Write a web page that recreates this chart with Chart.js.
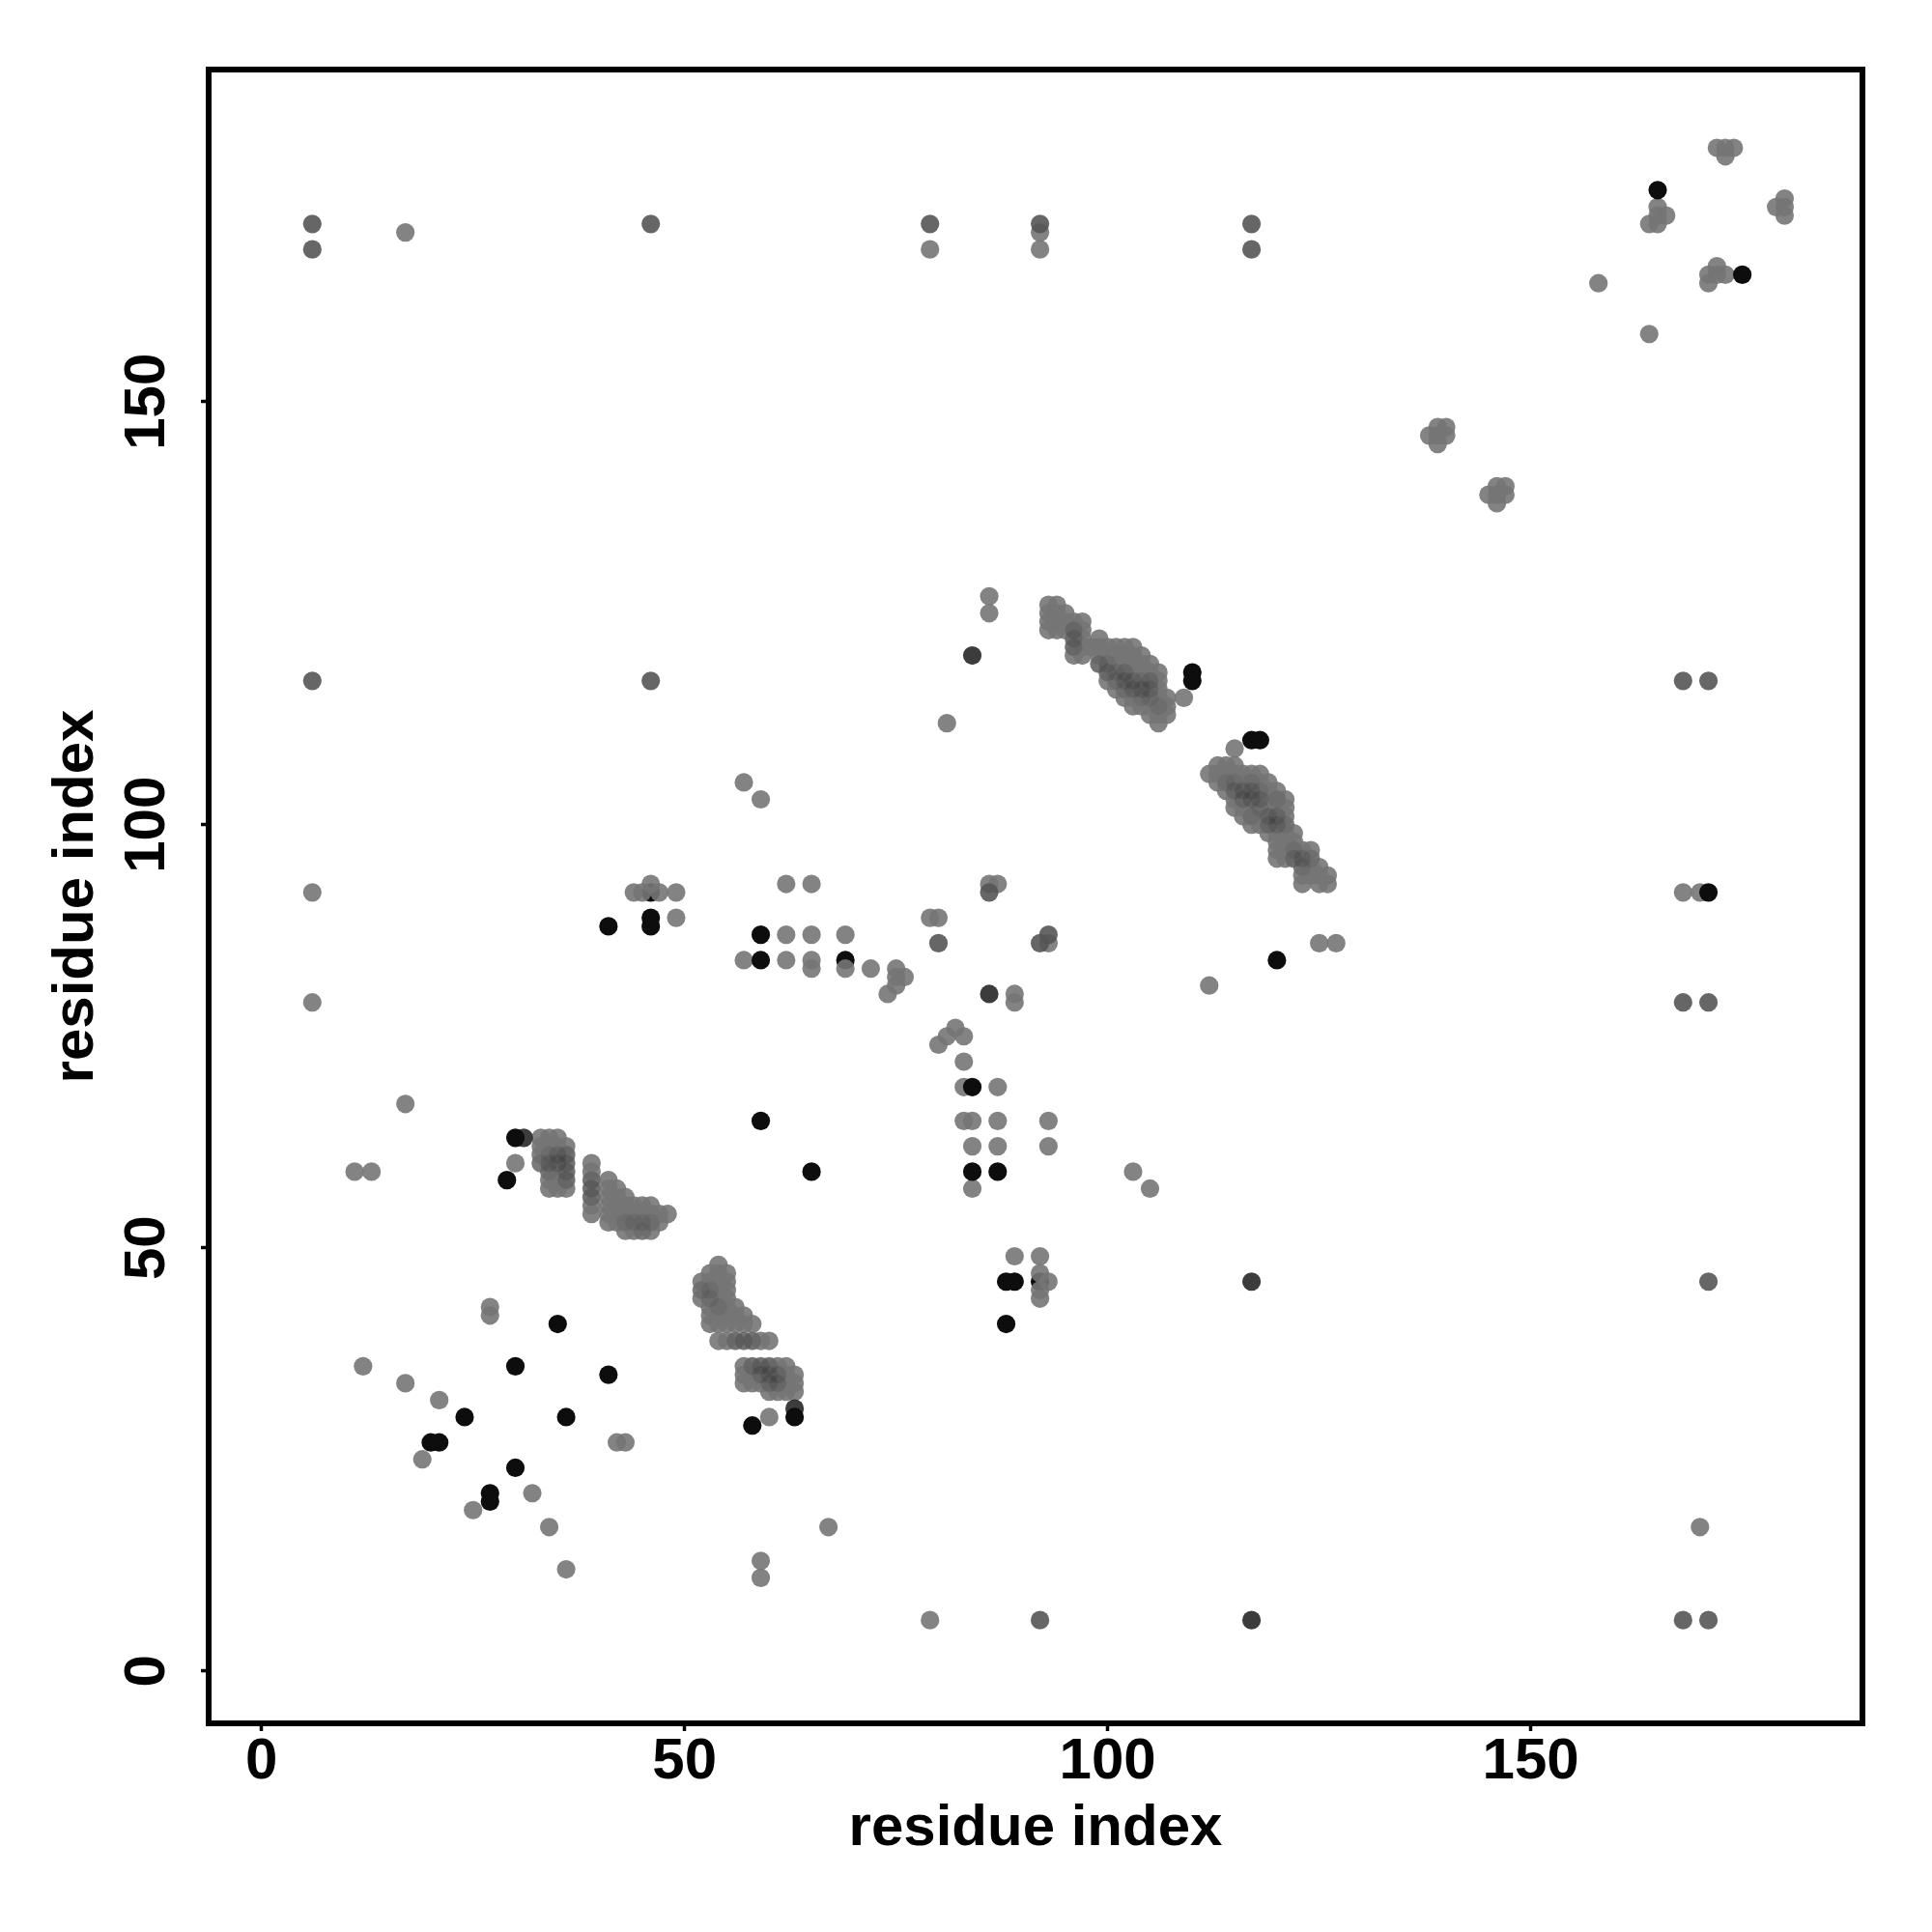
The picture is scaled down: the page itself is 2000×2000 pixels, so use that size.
<!DOCTYPE html>
<html>
<head>
<meta charset="utf-8">
<title>residue contacts</title>
<script src="https://cdn.jsdelivr.net/npm/chart.js@4"></script>
<style>
  html, body { margin: 0; padding: 0; background: #fff; }
  canvas { display: block; }
</style>
</head>
<body>
<canvas id="contactChart" width="2000" height="2000"></canvas>
<script>
const tickValues = [0, 50, 100, 150];
const axisLabel = "residue index";

// scattered grey contacts
const lightPoints = [
  [79,6],[170,17],[67,17],[34,17],[36,12],[59,13],[59,11],[25,19],[32,21],[19,25],[42,27],[43,27],
  [21,32],[17,34],[12,36],[27,42],[27,43],[60,30],[17,170],[79,168],[92,170],[92,168],[158,164],[164,158],
  [86,127],[86,125],[81,112],[109,115],[57,105],[59,103],[44,92],[45,92],[46,93],[47,92],[49,92],[49,89],
  [62,93],[65,93],[62,87],[65,87],[69,87],[57,84],[62,84],[65,84],[65,83],[69,83],[72,83],[75,83],
  [75,82],[76,82],[74,80],[75,81],[79,89],[80,89],[86,93],[87,93],[89,80],[89,79],[93,86],[80,74],
  [81,75],[82,76],[83,75],[83,72],[83,69],[87,69],[83,65],[84,65],[87,65],[93,65],[84,62],[87,62],
  [93,62],[84,57],[103,59],[105,57],[17,67],[11,59],[13,59],[89,49],[92,49],[92,47],[93,46],[92,44],
  [92,45],[168,92],[170,92],[6,92],[6,79],[112,81],[125,86],[127,86],[30,60],
  [164,171],[165,171],[165,172],[166,172],[165,173],[172,180],[173,180],[174,180],[173,179],
  [179,173],[180,174],[180,173],[180,172],[171,164],[171,165],[172,166],[172,165],[173,165],
  [138,146],[139,146],[139,145],[139,147],[140,147],[140,146],
  [145,139],[146,138],[146,139],[146,140],[147,140],[147,139]
];
const midPoints = [
  [92,6],[168,6],[171,6],[6,171],[6,168],[46,171],[79,171],[117,171],[117,168],[168,117],[171,117],[46,117],
  [92,86],[93,87],[168,79],[171,79],[171,46],[92,171],[6,117],[80,86],[86,92]
];
const darkPoints = [
  [117,6],[117,46],[86,80],[31,63],[63,31],[84,120]
];
const blackPoints = [
  [27,20],[27,21],[30,24],[20,27],[21,27],[24,30],[36,30],[30,36],[41,35],[35,41],[58,29],[63,30],
  [30,63],[29,58],[59,65],[65,59],[84,69],[84,59],[87,59],[88,46],[89,46],[88,41],[117,110],[118,110],
  [110,118],[110,117],[120,84],[165,175],[175,165],[171,92],[46,89],[46,88],[41,88],[59,87],[59,84]
];
// black contacts that sit underneath a grey neighbour
const underPoints = [[46,92],[69,84],[92,46]];

// the four dense bands along the helices
const bandA = [
  [54,48],[53,47],[54,47],[55,47],[52,46],[53,46],[54,46],[55,46],[52,45],[53,45],[54,45],[55,45],
  [52,44],[53,44],[54,44],[55,44],[53,43],[54,43],[55,43],[56,43],[53,42],[54,42],[55,42],[56,42],[57,42],
  [53,41],[54,41],[55,41],[56,41],[57,41],[58,41],[54,39],[55,39],[56,39],[57,39],[58,39],[59,39],[60,39],
  [57,36],[58,36],[59,36],[60,36],[61,36],[62,36],[57,35],[58,35],[59,35],[60,35],[61,35],[62,35],[63,35],
  [57,34],[58,34],[59,34],[60,34],[61,34],[62,34],[63,34],[60,33],[61,33],[62,33],[63,33]
];
const bandB = [
  [33,63],[34,63],[35,63],[33,62],[34,62],[35,62],[36,62],[33,61],[34,61],[35,61],[36,61],[33,60],[34,60],
  [35,60],[36,60],[34,59],[35,59],[36,59],[34,58],[35,58],[36,58],[34,57],[35,57],[36,57],
  [39,60],[39,59],[39,58],[39,57],[39,56],[39,55],[39,54],[41,58],[41,57],[41,56],[41,55],[41,54],[41,53],
  [42,57],[42,56],[42,55],[42,54],[42,53],[43,56],[43,55],[43,54],[43,53],[43,52],[44,55],[44,54],[44,53],
  [44,52],[45,55],[45,54],[45,53],[45,52],[46,55],[46,54],[46,53],[46,52],[47,54],[47,53],[48,54]
];
const bandC = [
  [93,126],[93,125],[93,124],[93,123],[94,126],[94,125],[94,124],[94,123],[95,125],[95,124],[95,123],
  [96,124],[96,123],[96,122],[96,121],[96,120],[97,124],[97,123],[97,122],[97,121],[97,120],[98,121],
  [99,122],[99,121],[99,120],[99,119],[100,121],[100,120],[100,119],[100,118],[100,117],
  [101,121],[101,120],[101,119],[101,118],[101,117],[101,116],[102,121],[102,120],[102,119],[102,118],
  [102,117],[102,116],[102,115],[103,121],[103,120],[103,119],[103,118],[103,117],[103,116],[103,115],[103,114],
  [104,120],[104,119],[104,118],[104,117],[104,116],[104,115],[104,114],[105,119],[105,118],[105,117],
  [105,116],[105,115],[105,114],[105,113],[106,118],[106,117],[106,116],[106,115],[106,114],[106,113],[106,112],
  [107,115],[107,114],[107,113]
];
const bandD = [
  [115,109],[112,106],[113,107],[113,106],[113,105],[114,107],[114,106],[114,105],[114,104],
  [115,107],[115,106],[115,105],[115,104],[115,103],[115,102],[116,106],[116,105],[116,104],[116,103],
  [116,102],[116,101],[117,106],[117,105],[117,104],[117,103],[117,102],[117,101],[117,100],
  [118,106],[118,105],[118,104],[118,103],[118,102],[118,101],[118,100],[119,105],[119,104],[119,103],
  [119,102],[119,101],[119,100],[119,99],[120,104],[120,103],[120,102],[120,101],[120,100],[120,99],
  [120,98],[120,97],[120,96],[121,103],[121,102],[121,101],[121,100],[121,99],[121,98],[121,97],[121,96],
  [122,99],[122,98],[122,97],[122,96],[123,97],[123,96],[123,95],[123,94],[123,93],[124,97],[124,96],
  [124,95],[124,94],[125,95],[125,94],[125,93],[126,94],[126,93]
];
// darker cores where many contacts pile up
const softCore = [
  [52,45],[53,45],[53,44],[54,43],[33,60],[34,61],[34,59],[43,53],[44,53],[45,53],[46,53],[45,52],
  [100,119],[101,118],[101,117],[102,116],[104,117],[104,115],[105,115],[106,114],
  [114,105],[115,105],[117,105],[118,104],[118,102],[117,101],[120,103],[121,100],[122,97],[123,95],[124,96]
];
const corePoints = [
  [56,39],[57,39],[58,39],[58,36],[59,36],[60,36],[59,35],[60,35],[61,35],[60,34],[61,34],
  [34,60],[35,60],[36,60],[35,61],[36,61],[36,59],[36,58],[39,58],[39,57],[39,56],
  [96,123],[96,122],[96,121],[99,119],[100,118],[102,118],[102,117],[103,117],[103,116],[104,116],[105,117],[105,116],
  [115,104],[116,104],[116,103],[117,104],[117,103],[118,103],[119,101],[119,100],[120,101],[120,100],[122,96],[123,96]
];

const toXY = pts => pts.map(p => ({ x: p[0], y: p[1] }));
const layer = (pts, color, radius) => ({ data: toXY(pts), backgroundColor: color, borderWidth: 0, pointRadius: radius || 9.6 });

const LIGHT = "rgba(118,118,118,0.9)";
const fontFamily = "'Liberation Sans', Arial, sans-serif";

// R style box round the plot region
const framePlugin = {
  id: "frame",
  afterDraw(chart) {
    const { left, top, width, height } = chart.chartArea;
    const ctx = chart.ctx;
    ctx.save();
    ctx.strokeStyle = "#000";
    ctx.lineWidth = 6;
    ctx.strokeRect(left, top, width, height);
    ctx.restore();
  }
};

const fixTicks = scale => { scale.ticks = tickValues.map(v => ({ value: v, label: String(v) })); };
const tickGrid = { display: true, drawOnChartArea: false, drawTicks: true, tickLength: 8, tickWidth: 3.5, tickColor: "#000" };
const labelFont = { family: fontFamily, size: 60, weight: "bold" };

new Chart(document.getElementById("contactChart").getContext("2d"), {
  type: "scatter",
  data: {
    // chart.js paints the first dataset last, so the darkest layer goes first
    datasets: [
      layer(blackPoints, "#0d0d0d"),
      layer(darkPoints, "rgba(50,50,50,0.95)"),
      layer(midPoints, "rgba(85,85,85,0.9)"),
      layer(corePoints, "rgba(40,40,40,0.18)", 9),
      layer(softCore, "rgba(40,40,40,0.1)", 9),
      layer(bandD, LIGHT),
      layer(bandC, LIGHT),
      layer(bandB, LIGHT),
      layer(bandA, LIGHT),
      layer(lightPoints, LIGHT),
      layer(underPoints, "#0d0d0d")
    ]
  },
  options: {
    responsive: false,
    animation: false,
    layout: { padding: { top: 72, right: 72, left: 0, bottom: 0 } },
    plugins: { legend: { display: false }, tooltip: { enabled: false } },
    scales: {
      x: {
        type: "linear",
        min: -6.25,
        max: 189.2,
        afterBuildTicks: fixTicks,
        afterFit: scale => { scale.height = 216; },
        border: { display: false },
        grid: tickGrid,
        ticks: { color: "#000", font: labelFont, padding: -4, maxRotation: 0, autoSkip: false },
        title: { display: true, text: axisLabel, color: "#000", font: labelFont, padding: { top: 0, bottom: 71 } }
      },
      y: {
        type: "linear",
        min: -6.2,
        max: 189.25,
        afterBuildTicks: fixTicks,
        afterFit: scale => { scale.width = 216; },
        border: { display: false },
        grid: tickGrid,
        ticks: { color: "#000", font: labelFont, padding: 4, minRotation: 90, maxRotation: 90, crossAlign: "center", autoSkip: false },
        title: { display: true, text: axisLabel, color: "#000", font: labelFont, padding: { top: 43, bottom: 0 } }
      }
    }
  },
  plugins: [framePlugin]
});
</script>
</body>
</html>
